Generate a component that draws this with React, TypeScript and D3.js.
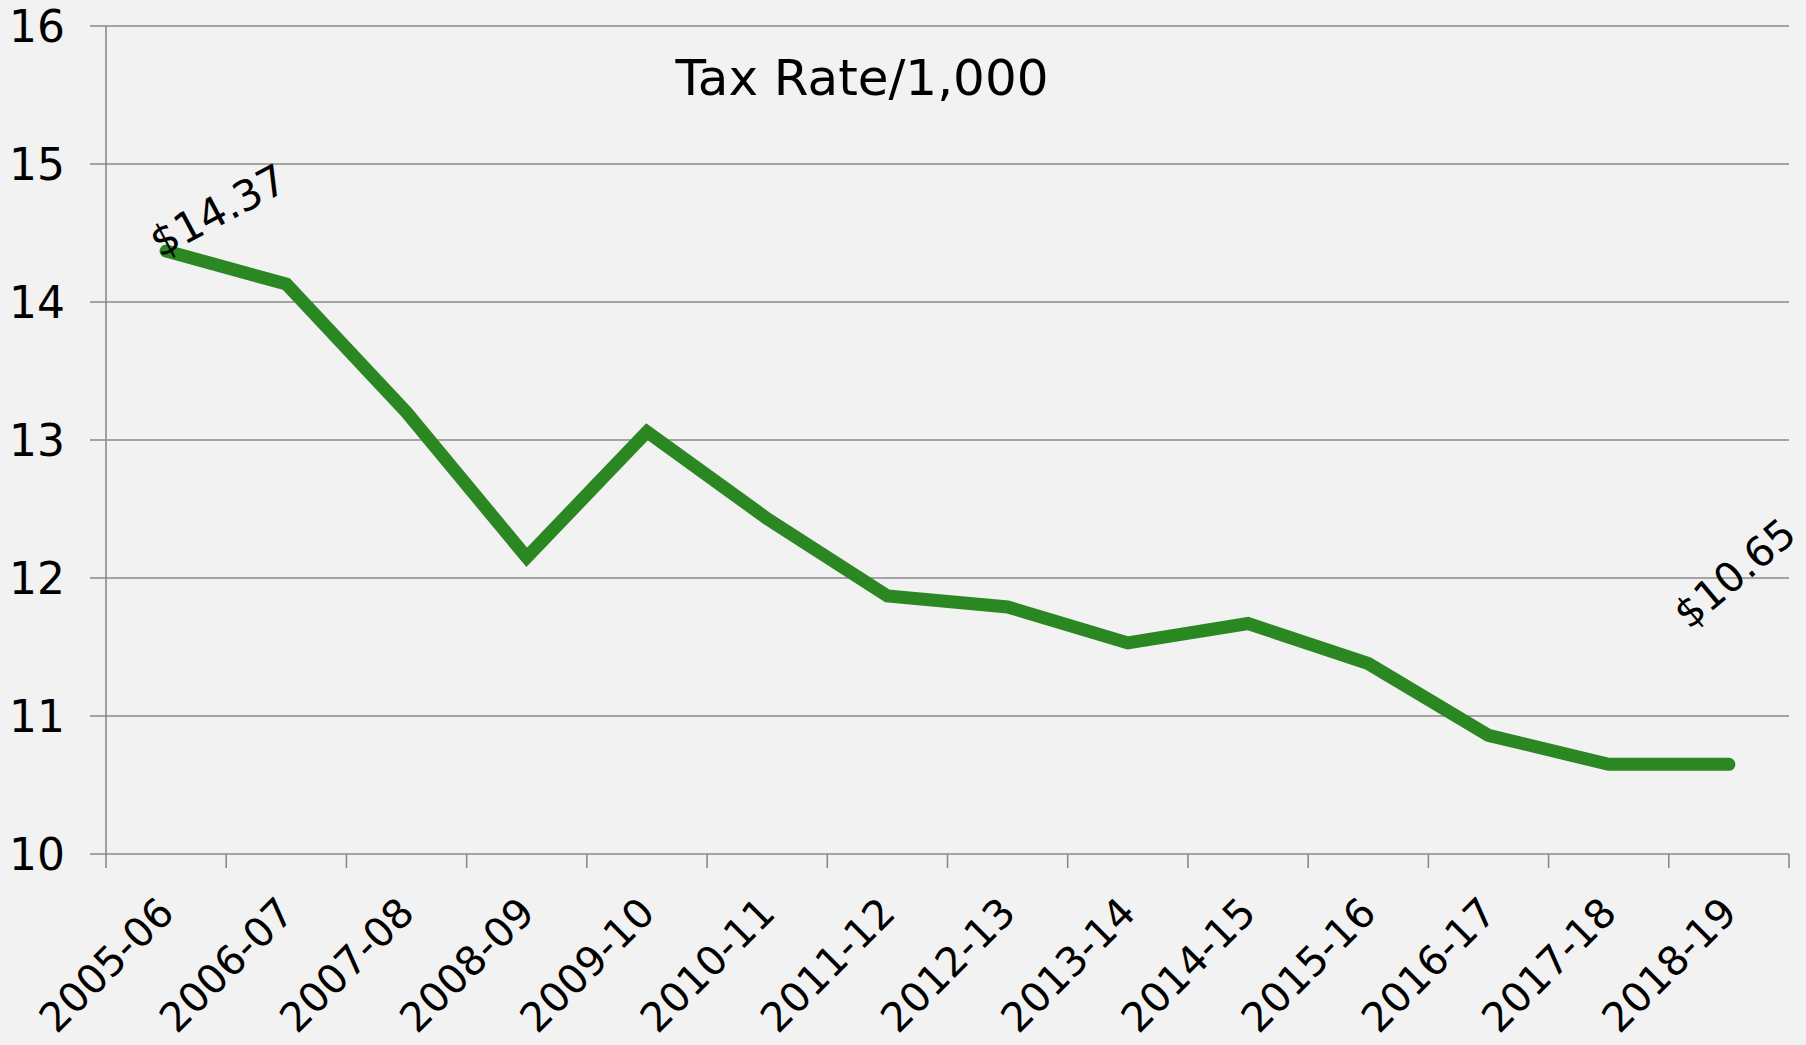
import React from "react";
import * as d3 from "d3";

const categories = [
  "2005-06", "2006-07", "2007-08", "2008-09", "2009-10", "2010-11", "2011-12",
  "2012-13", "2013-14", "2014-15", "2015-16", "2016-17", "2017-18", "2018-19",
];
const taxRate = [
  14.37, 14.13, 13.2, 12.15, 13.06, 12.43, 11.87, 11.79, 11.53, 11.67, 11.38, 10.86, 10.65, 10.65,
];
const yTicks = [10, 11, 12, 13, 14, 15, 16];
const title = "Tax Rate/1,000";
const firstLabel = "$14.37";
const lastLabel = "$10.65";

const W = 1806;
const H = 1045;
const left = 106;
const right = 1789;
const top = 26;
const bottom = 854;
const gridColor = "#8a8a8a";
const lineColor = "#2b8721";
const font = "'DejaVu Sans', sans-serif";

export default function App() {
  const x = d3.scaleBand<string>().domain(categories).range([left, right]).padding(0);
  const y = d3.scaleLinear().domain([10, 16]).range([bottom, top]);
  const bw = x.bandwidth();
  const cx = (c: string) => (x(c) as number) + bw / 2;

  const line = d3
    .line<number>()
    .x((_, i) => cx(categories[i]))
    .y((d) => y(d));

  const boundaries = categories.map((c) => x(c) as number).concat([right]);

  const p0 = [cx(categories[0]), y(taxRate[0])];
  const pn = [cx(categories[categories.length - 1]), y(taxRate[taxRate.length - 1])];

  return (
    <svg
      width={W}
      height={H}
      style={{ position: "absolute", left: 0, top: 0, background: "#f2f2f2" }}
    >
      <rect x={0} y={0} width={W} height={H} fill="#f2f2f2" />
      {yTicks.map((t) => (
        <g key={t}>
          <line x1={90} x2={right} y1={y(t)} y2={y(t)} stroke={gridColor} strokeWidth={1.6} />
          <text
            x={65}
            y={y(t) + 16}
            textAnchor="end"
            fontFamily={font}
            fontSize={44}
            fill="#000"
          >
            {t}
          </text>
        </g>
      ))}
      <line x1={left} x2={left} y1={top} y2={bottom} stroke={gridColor} strokeWidth={1.6} />
      {boundaries.map((b, i) => (
        <line key={i} x1={b} x2={b} y1={bottom} y2={bottom + 14} stroke={gridColor} strokeWidth={1.6} />
      ))}
      {categories.map((c) => (
        <text
          key={c}
          transform={`translate(${cx(c) + 10},${bottom + 61}) rotate(-45)`}
          textAnchor="end"
          fontFamily={font}
          fontSize={40.5}
          fill="#000"
        >
          {c}
        </text>
      ))}
      <path
        d={line(taxRate) || ""}
        fill="none"
        stroke={lineColor}
        strokeWidth={13}
        strokeLinecap="round"
        strokeLinejoin="miter"
      />
      <text
        transform={`translate(${p0[0] - 6},${p0[1] + 7}) rotate(-28)`}
        fontFamily={font}
        fontSize={42}
        fill="#000"
      >
        {firstLabel}
      </text>
      <text
        transform={`translate(${pn[0] - 40},${pn[1] - 134}) rotate(-40)`}
        fontFamily={font}
        fontSize={41}
        fill="#000"
      >
        {lastLabel}
      </text>
      <text x={862} y={95} textAnchor="middle" fontFamily={font} fontSize={50} fill="#000">
        {title}
      </text>
    </svg>
  );
}
